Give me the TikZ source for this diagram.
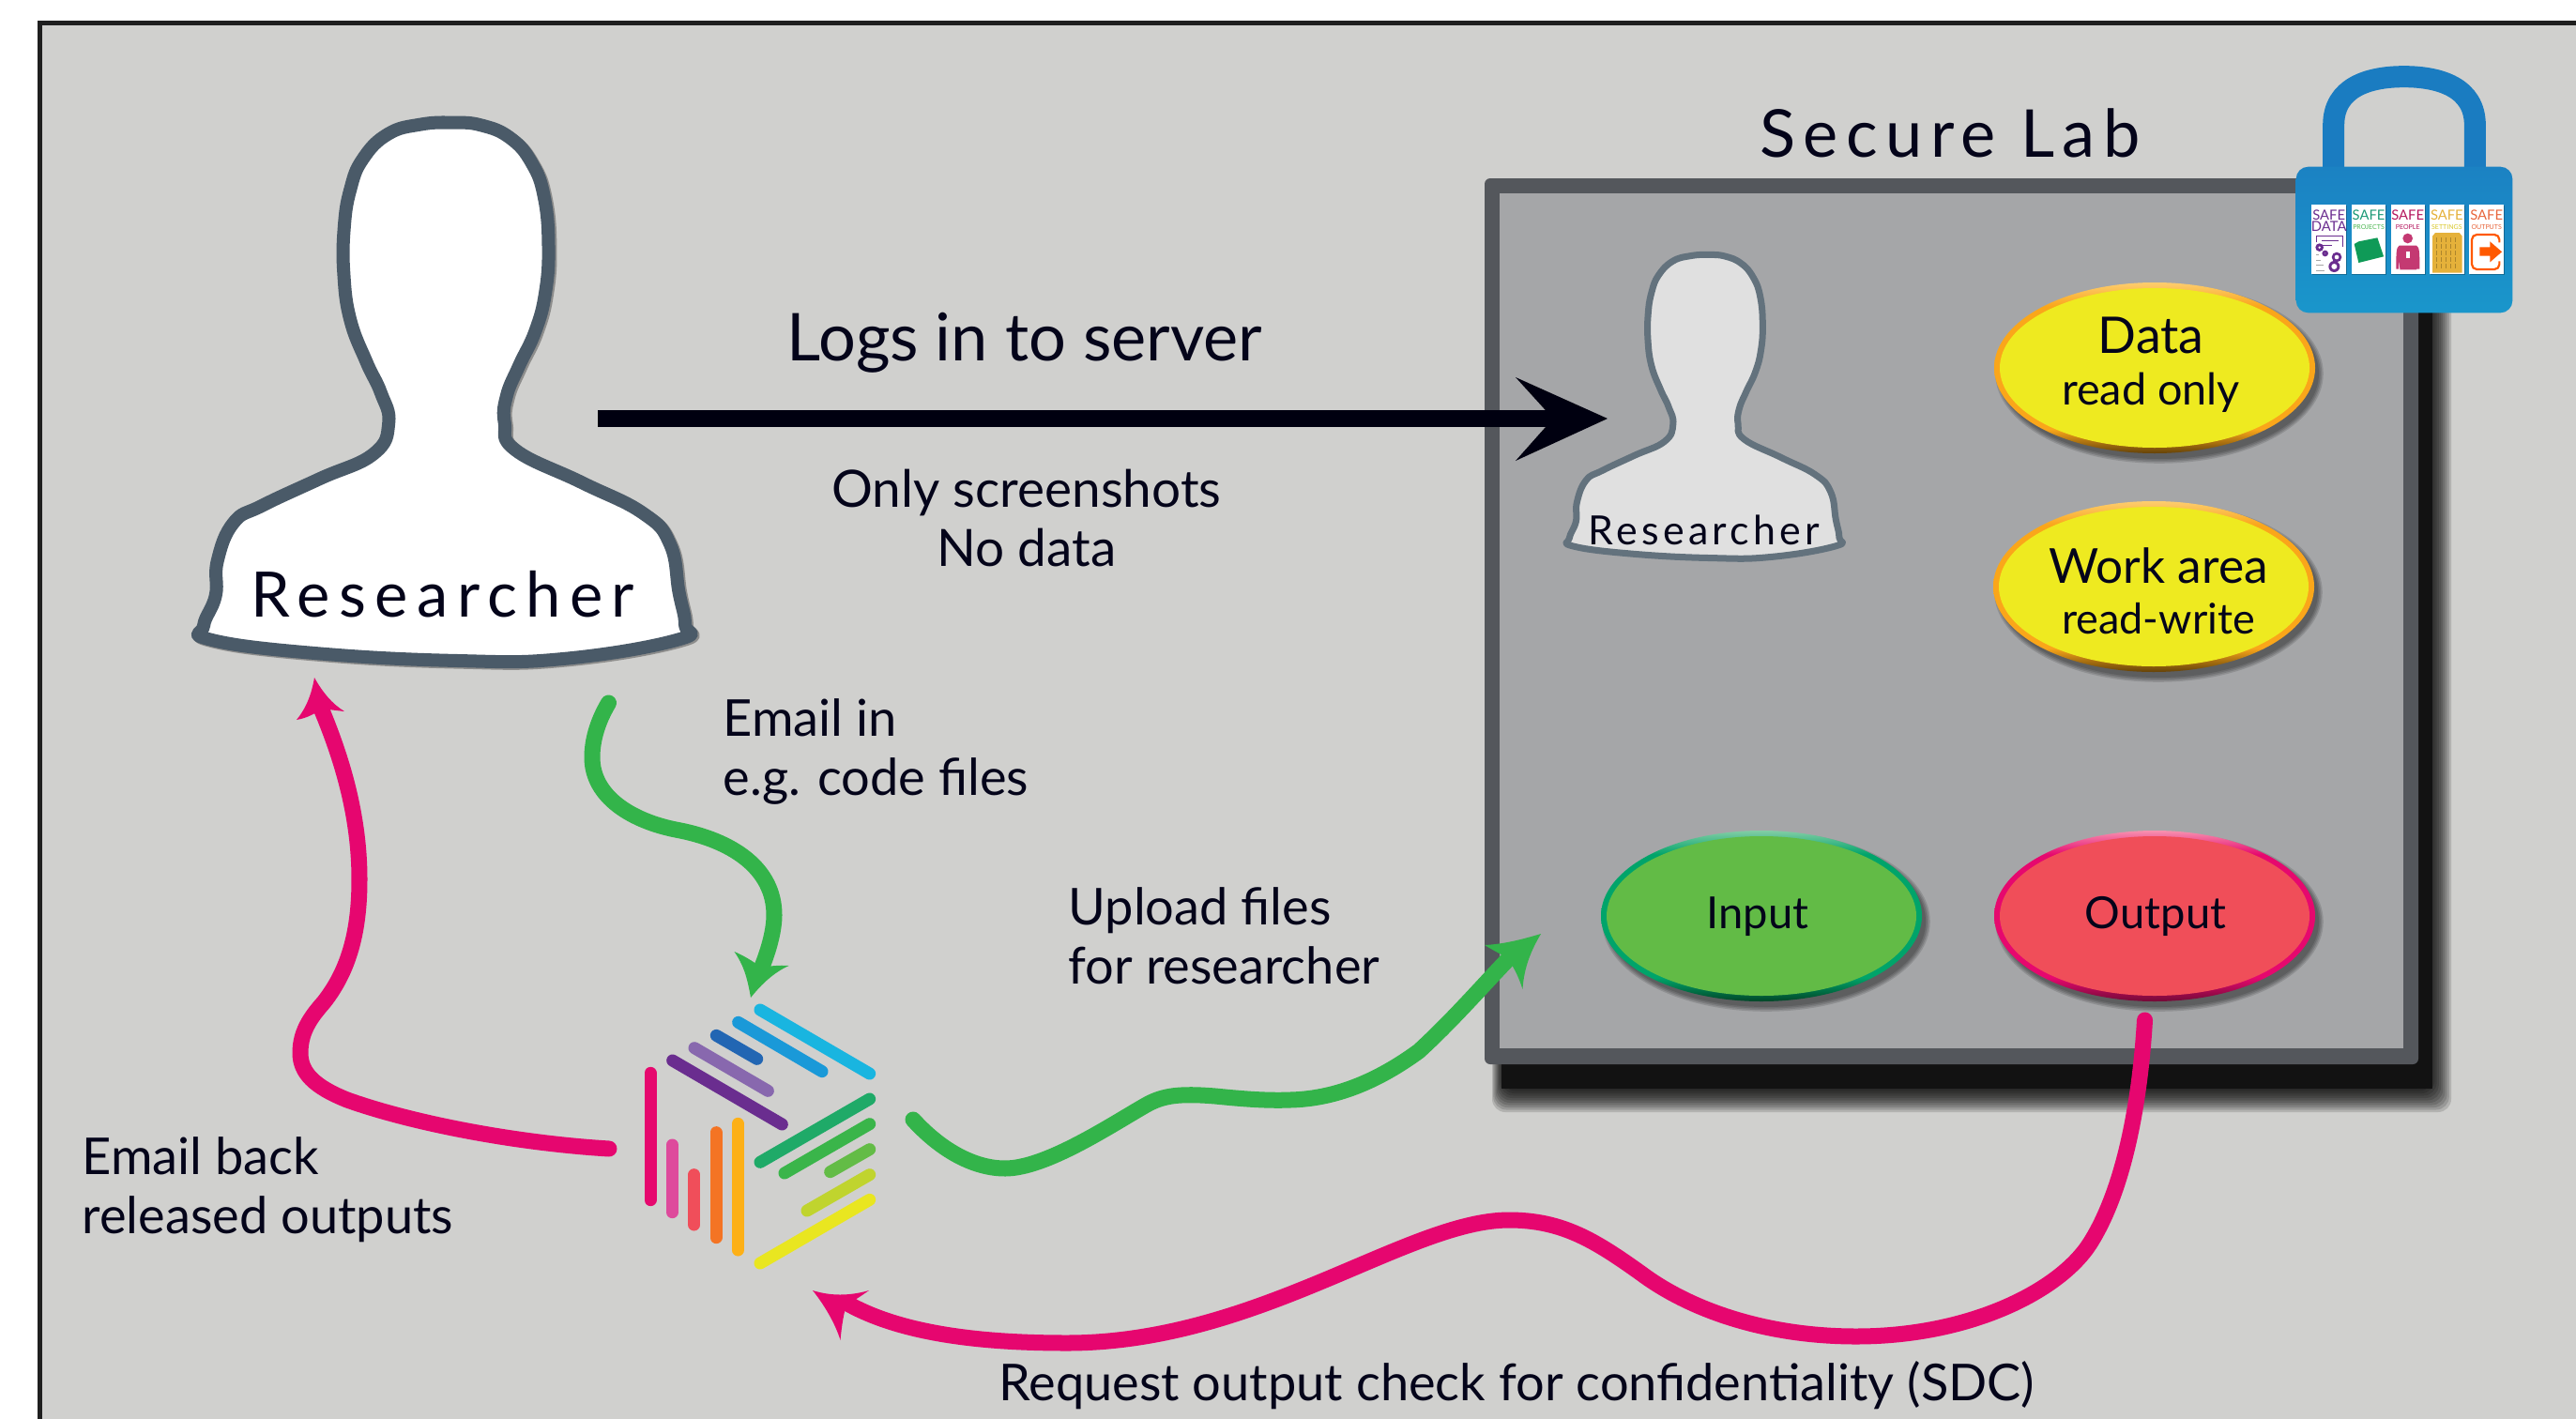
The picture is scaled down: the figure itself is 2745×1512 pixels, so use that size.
\documentclass[tikz,border=0pt]{standalone}
\usepackage{fontspec}
\setmainfont{Lato}
\newfontfamily\spacedbig[LetterSpace=14]{Lato}
\newfontfamily\spacedmid[LetterSpace=12]{Lato}
\newfontfamily\spacedsmall[LetterSpace=10]{Lato}
\definecolor{bggray}{HTML}{D0D0CE}
\definecolor{ink}{HTML}{04041A}
\definecolor{framecol}{HTML}{54575C}
\definecolor{labfill}{HTML}{A5A6A8}
\definecolor{pinkc}{HTML}{E6066F}
\definecolor{greenc}{HTML}{33B44A}
\definecolor{lockblue}{HTML}{1A7CC1}
\definecolor{lockblueA}{HTML}{1B82C3}
\definecolor{lockblueB}{HTML}{1A96CB}
\definecolor{navy}{HTML}{000010}
\definecolor{bigedge}{HTML}{4A5A68}
\definecolor{smalledge}{HTML}{63727D}
\definecolor{smallfill}{HTML}{E0E0E0}
\definecolor{yelfill}{HTML}{EEEA20}
\definecolor{yelA}{HTML}{FDCD6E}
\definecolor{yelB}{HTML}{FAA61A}
\definecolor{yelC}{HTML}{644208}
\definecolor{grefill}{HTML}{62BB46}
\definecolor{greA}{HTML}{82CDA5}
\definecolor{greB}{HTML}{00A46A}
\definecolor{greC}{HTML}{004628}
\definecolor{redfill}{HTML}{F04E59}
\definecolor{redA}{HTML}{F791AF}
\definecolor{redB}{HTML}{E6086E}
\definecolor{redC}{HTML}{730A37}
\definecolor{foldergreen}{HTML}{0F9A57}
\pgfdeclareverticalshading{yelring}{100bp}{color(0bp)=(yelC);color(25bp)=(yelC);color(32bp)=(yelB);color(68bp)=(yelB);color(75bp)=(yelA);color(100bp)=(yelA)}
\pgfdeclareverticalshading{grering}{100bp}{color(0bp)=(greC);color(25bp)=(greC);color(32bp)=(greB);color(68bp)=(greB);color(75bp)=(greA);color(100bp)=(greA)}
\pgfdeclareverticalshading{redring}{100bp}{color(0bp)=(redC);color(25bp)=(redC);color(32bp)=(redB);color(68bp)=(redB);color(75bp)=(redA);color(100bp)=(redA)}
\def\pu{0.2845pt}
\tikzset{
  lbl/.style={inner sep=0pt,text=ink,anchor=base},
  lblw/.style={inner sep=0pt,text=ink,anchor=base west},
  flow/.style={line width=17*\pu,line cap=round,line join=round},
  bar/.style={line width=13*\pu,line cap=round},
  cellbox/.style={fill=white},
  safelbl/.style={inner sep=0pt,anchor=base,font=\fontsize{4.2}{4.2}\selectfont},
  tinylbl/.style={inner sep=0pt,anchor=base,font=\fontsize{2}{2}\selectfont},
}
\newcommand{\personpath}{plot[smooth cycle,tension=0.75] coordinates {
 (790,75)(870,82)(950,115)(1010,180)(1045,270)(1057,400)(1048,520)(1020,620)(975,710)(940,790)(935,860)(965,930)
 (1150,1015)(1320,1095)(1395,1175)(1420,1300)(1437,1385)(1418,1425)(1100,1475)(800,1480)(400,1460)(115,1425)
 (97,1388)(130,1310)(135,1220)(180,1120)(260,1075)(420,1005)(570,940)(612,860)(590,780)(550,700)(505,590)(487,470)(488,350)(505,250)(540,170)(610,105)(700,80)}}
\newcommand{\softoval}[3]{% cx cy prefix
 \foreach \k in {0,1,2,3}{\fill[black,opacity=0.13] (#1+5,#2+6) ellipse ({170+\k*1.6} and {91+\k*1.6});}
 \shade[shading=#3ring] (#1,#2) ellipse (171 and 91);
 \fill[#3fill] (#1,#2) ellipse (165 and 85);
}
\begin{document}
\begin{tikzpicture}[x=0.01cm,y=-0.01cm]
\useasboundingbox (0,0) rectangle (2745,1512);
\fill[white] (0,0) rectangle (2745,1512);
\fill[bggray] (40,22) rectangle (2745,1512);
\draw[line width=5*\pu,color=black!88] (42.5,1512) -- (42.5,24.5) -- (2745,24.5);

% big researcher
\begin{scope}[shift={(180,100)},x=0.01cm/2.613,y=-0.01cm/2.45]
 \begin{scope}[shift={(5,4)}]
 \draw[line width=14*\pu,line join=round,black!70,opacity=.5] \personpath;
 \end{scope}
 \draw[line width=14*\pu,line join=round,draw=bigedge,fill=white] \personpath;
\end{scope}
\node[lbl,font=\spacedbig\fontsize{19}{19}\selectfont] (bigres) at (472,657) {Researcher};

% secure lab box
\node[lbl,font=\spacedmid\fontsize{20}{20}\selectfont] (seclab) at (2078,167) {Secure Lab};
\foreach \k in {0,...,10}{
 \fill[black,opacity=0.14,rounded corners=14*\pu] (1602-\k*1.2,250-\k*2) rectangle (2590+\k*2.2,1160+\k*2.5);}
\fill[black!93] (1600,250) rectangle (2592,1160);
\fill[framecol,rounded corners=6*\pu] (1582,190) rectangle (2577,1134);
\fill[labfill] (1597.5,206) rectangle (2561,1117);

% small researcher
\begin{scope}[shift={(1651.5,254.2)},x=0.01cm*0.2146,y=-0.01cm*0.23]
 \draw[line width=7*\pu,line join=round,draw=smalledge,fill=smallfill] \personpath;
\end{scope}
\node[lbl,font=\spacedsmall\fontsize{12.2}{12.2}\selectfont] (smallres) at (1816,580) {Researcher};

% ovals
\softoval{2296}{392}{yel}
\softoval{2295}{625}{yel}
\softoval{1877}{976}{gre}
\softoval{2296}{976}{red}
\node[lbl,font=\fontsize{15.3}{15.3}\selectfont] (data) at (2292,376) {Data};
\node[lbl,font=\fontsize{13.3}{13.3}\selectfont] (ro) at (2292,431) {read only};
\node[lbl,font=\fontsize{14.6}{14.6}\selectfont] (work) at (2300,621) {Work area};
\node[lbl,font=\fontsize{12.8}{12.8}\selectfont] (rw) at (2300,675) {read-write};
\node[lbl,font=\fontsize{13.4}{13.4}\selectfont] (input) at (1873,989) {Input};
\node[lbl,font=\fontsize{13.4}{13.4}\selectfont] (output) at (2297,989) {Output};

% text labels
\node[lbl,font=\fontsize{20}{20}\selectfont] (logs) at (1092,384) {Logs in to server};
\node[lbl,font=\fontsize{15.6}{15.6}\selectfont] (shots) at (1094,540) {Only screenshots};
\node[lbl,font=\fontsize{15.6}{15.6}\selectfont] (nod) at (1094,603) {No data};
\node[lblw,font=\fontsize{15.4}{15.4}\selectfont] (em1) at (770,784) {Email in};
\node[lblw,font=\fontsize{15.4}{15.4}\selectfont] (em2) at (770,847) {e.g. code files};
\node[lblw,font=\fontsize{15.4}{15.4}\selectfont] (up1) at (1138,985) {Upload files};
\node[lblw,font=\fontsize{15.4}{15.4}\selectfont] (up2) at (1138,1048) {for researcher};
\node[lblw,font=\fontsize{15.4}{15.4}\selectfont] (bk1) at (87,1251) {Email back};
\node[lblw,font=\fontsize{15.4}{15.4}\selectfont] (bk2) at (87,1314) {released outputs};
\node[lbl,font=\fontsize{15.4}{15.4}\selectfont] (req) at (1616,1492) {Request output check for confidentiality (SDC)};

% logo
\begin{scope}[shift={(640,1040)},x=0.01cm/3,y=-0.01cm/3]
 \foreach \xa/\ya/\xb/\yb/\c in {510/108/860/312/19B5E0,440/148/708/305/1A99D8,370/190/500/265/2266B3,300/230/535/367/8868AE,230/270/580/474/6A2D8F,510/595/860/393/1FAA68,588/630/860/473/3AB54A,734/626/860/554/63BC46,660/750/860/635/C0D42E,510/918/860/715/E9E620,159/310/159/716/E6086E,229/540/229/755/DE4A9C,299/635/299/795/F04E5A,369/500/369/836/F47424,439/472/439/876/FDB017}{
  \definecolor{barc}{HTML}{\c}
  \draw[bar,color=barc] (\xa,\ya) -- (\xb,\yb);
 }
\end{scope}
\coordinate (logoL) at (649,1224);
\coordinate (logoT) at (800,1063);
\coordinate (logoR) at (973,1193);
\coordinate (logoB) at (866,1375);
\coordinate (resB) at (335,722);
\coordinate (resBR) at (648.5,749);
\coordinate (resR) at (637,446);
\coordinate (labR) at (1713,446);
\coordinate (labIn) at (1642,995);
\coordinate (labOut) at (2285.5,1087);

% arrows
\draw[line width=17.5*\pu,color=navy] (resR) -- (1660,446);
\fill[navy] (labR) -- (1615,402) -- (1655,446) -- (1615,491) -- cycle;

\draw[flow,color=pinkc] (logoL) .. controls (550,1218) and (440,1197) .. (370,1172) .. controls (335,1158) and (320,1143) .. (320,1122) .. controls (320,1100) and (330,1085) .. (345,1068) .. controls (375,1030) and (383,985) .. (383,937) .. controls (383,870) and (365,810) .. (343,757);
\fill[pinkc] (resB) .. controls (344,738) and (354,750) .. (367,758) .. controls (358,757) and (350,756) .. (343,755) .. controls (336,760) and (328,765) .. (316,767) .. controls (326,755) and (332,740) .. cycle;

\draw[flow,color=greenc] (resBR) .. controls (636,770) and (631,790) .. (631,807) .. controls (631,850) and (675,875) .. (720,884) .. controls (780,895) and (825,925) .. (825,975) .. controls (825,990) and (820,1010) .. (812,1030);
\fill[greenc] (logoT) .. controls (796,1040) and (792,1028) .. (782.5,1014) .. controls (792,1018) and (802,1024) .. (810,1030) .. controls (820,1030) and (830,1028) .. (840.6,1029) .. controls (825,1036) and (812,1048) .. cycle;

\draw[flow,color=greenc] (logoR) .. controls (1005,1228) and (1040,1245) .. (1071,1245) .. controls (1115,1245) and (1185,1198) .. (1222,1177) .. controls (1240,1167) and (1258,1165) .. (1295,1168) .. controls (1325,1171) and (1350,1173) .. (1375,1172) .. controls (1415,1171) and (1460,1158) .. (1512,1120) .. controls (1550,1085) and (1580,1050) .. (1609,1020);
\fill[greenc] (labIn) .. controls (1625,1000) and (1604,1006) .. (1582,1007) .. controls (1590,1012) and (1598,1016) .. (1605,1020) .. controls (1612,1028) and (1618,1040) .. (1622.5,1054) .. controls (1624,1030) and (1632,1012) .. cycle;

\draw[flow,color=pinkc] (labOut) .. controls (2280,1180) and (2262,1270) .. (2227,1325) .. controls (2195,1375) and (2100,1424) .. (1978,1424) .. controls (1880,1424) and (1800,1395) .. (1749,1357) .. controls (1700,1322) and (1665,1300) .. (1608,1300) .. controls (1500,1300) and (1340,1431) .. (1137,1431) .. controls (1040,1431) and (960,1420) .. (905,1390);
\fill[pinkc] (logoB) .. controls (885,1381) and (905,1381) .. (926,1375) .. controls (916,1382) and (910,1386) .. (902,1390) .. controls (899,1400) and (897,1412) .. (895.5,1428) .. controls (890,1410) and (878,1390) .. cycle;

% padlock
\begin{scope}[shift={(2400,50)},x=0.01cm/3,y=-0.01cm/3]
 \draw[color=lockblue,line width=23*\pu] (260,395) -- (260,250) .. controls (260,130) and (370,95) .. (485,95) .. controls (600,95) and (712,130) .. (712,250) -- (712,395);
 \shade[rounded corners=13*\pu,top color=lockblueA,bottom color=lockblueB] (140,383) rectangle (832,850);
 \foreach \xa/\xb in {190/300,317/427,443/552,568/678,694/804}{
  \fill[black,opacity=.25] (\xa+1,508) rectangle (\xb+2,729);
  \fill[cellbox] (\xa,505) rectangle (\xb,725);}
 \definecolor{sdc}{HTML}{6A2D8F}\definecolor{spc}{HTML}{1E9A78}\definecolor{pec}{HTML}{B5175F}\definecolor{sec}{HTML}{E5B13A}\definecolor{ouc}{HTML}{E8663C}
 \node[safelbl,text=sdc] (sd1) at (245,553) {SAFE};
 \node[safelbl,text=sdc] (sd2) at (245,588) {DATA};
 \draw[color=sdc,line width=1*\pu] (205,625) |- (288,604) -- (288,640);
 \draw[color=sdc,line width=1*\pu] (222,620) -- (275,620) (222,634) -- (255,634);
 \foreach \cx/\cy/\r in {262/702/14,270/672/12,215/641/9,233/660/6}{
  \fill[sdc] (\cx,\cy) circle (\r+4);
  \fill[white] (\cx,\cy) circle (\r-5);}
 \draw[color=black!35,line width=.8*\pu] (204,665) -- (214,665) (204,681) -- (220,681) (204,698) -- (228,698) (204,715) -- (232,715);
 \node[safelbl,text=spc] (sp1) at (372,553) {SAFE};
 \node[tinylbl,text=spc!70!lime] (sp2) at (372,582) {PROJECTS};
 \fill[foldergreen] (326,630) -- (340,622) -- (360,618) -- (400,610) -- (420,670) -- (340,690) -- cycle;
 \node[safelbl,text=pec] (pe1) at (497,553) {SAFE};
 \node[tinylbl,text=pec] (pe2) at (497,582) {PEOPLE};
 \fill[pec!80!pink] (497,612) circle (16);
 \fill[pec!80!pink] (470,635) -- (525,635) .. controls (535,640) and (535,660) .. (535,710) -- (525,710) -- (525,712) -- (472,712) -- (470,680) -- (468,710) -- (460,710) .. controls (460,660) and (460,640) .. cycle;
 \fill[white] (491,655) rectangle (503,675);
 \node[safelbl,text=sec] (se1) at (622,553) {SAFE};
 \node[tinylbl,text=sec!70!lime] (se2) at (622,582) {SETTINGS};
 \fill[sec] (576,722) -- (576,605) -- (585,594) -- (662,594) -- (671,605) -- (671,722) -- cycle;
 \foreach \wx in {590,605,620,635,650}{\draw[color=black!25!sec,line width=.9*\pu,dash pattern=on 1.2pt off .8pt] (\wx,610) -- (\wx,715);}
 \node[safelbl,text=ouc] (ou1) at (749,553) {SAFE};
 \node[tinylbl,text=ouc] (ou2) at (749,582) {OUTPUTS};
 \draw[color=orange!70!red,line width=2.2*\pu,rounded corners=1.5pt] (790,625) -- (790,600) -- (702,600) -- (702,711) -- (790,711) -- (790,685);
 \fill[orange!70!red] (727,640) -- (760,640) -- (760,622) -- (798,655) -- (760,688) -- (760,668) -- (727,668) -- cycle;
\end{scope}
\end{tikzpicture}
\end{document}
